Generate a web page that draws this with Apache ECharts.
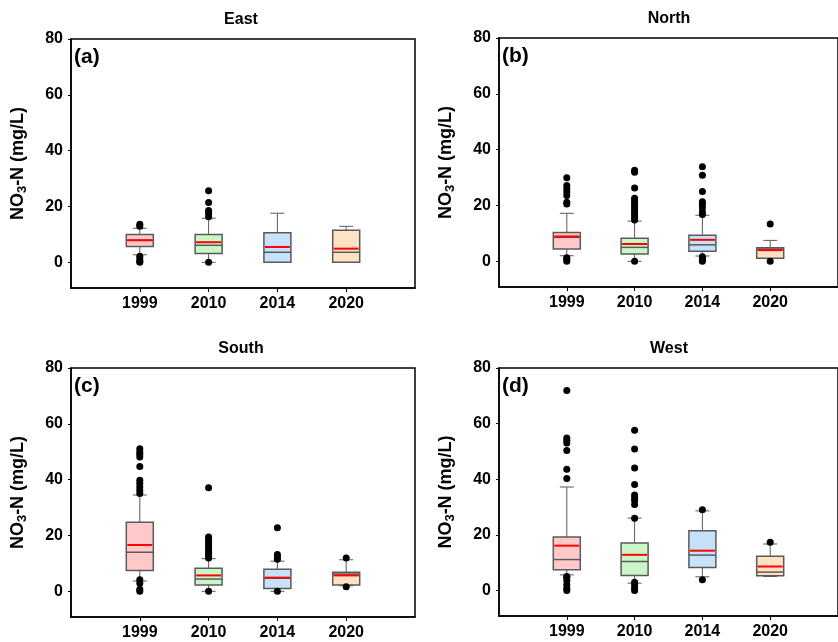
<!DOCTYPE html>
<html>
<head>
<meta charset="utf-8">
<script src="https://cdn.jsdelivr.net/npm/echarts@6/dist/echarts.min.js"></script>
<style>
  html, body { margin: 0; padding: 0; background: #fff; }
  #chart { width: 838px; height: 642px; }
</style>
</head>
<body>
<div id="chart"></div>
<script>
/* NO3-N boxplots by region, 1999-2020 */

const years = ['1999', '2010', '2014', '2020'];
const regions = ['East', 'North', 'South', 'West'];
const panelTags = ['(a)', '(b)', '(c)', '(d)'];
const yTicks = [0, 20, 40, 60, 80];

// each row: [lower whisker, Q1, median, Q3, upper whisker, mean]
const eastBox = [
  [2.7, 5.7, 7.9, 10.0, 12.2, 7.9],
  [0, 3.2, 6.1, 10.0, 15.8, 7.2],
  [0, 0, 3.6, 10.6, 17.6, 5.5],
  [0, 0, 3.6, 11.5, 12.9, 4.9],
];
const northBox = [
  [2.0, 4.4, 8.6, 10.3, 17.2, 8.9],
  [0, 2.6, 5.0, 8.3, 14.4, 6.2],
  [1.9, 3.6, 5.9, 9.3, 16.5, 7.7],
  [1.0, 1.1, 4.4, 4.9, 7.5, 4.0],
];
const southBox = [
  [3.7, 7.5, 14.0, 24.7, 34.5, 16.6],
  [0, 2.3, 4.4, 8.3, 11.7, 5.7],
  [0, 1.0, 4.7, 7.9, 10.8, 4.9],
  [2.0, 2.3, 6.2, 6.8, 11.3, 5.7],
];
const westBox = [
  [5.6, 7.4, 11.1, 19.2, 37.2, 16.1],
  [2.6, 5.4, 10.4, 17.1, 26.0, 12.8],
  [4.9, 8.2, 12.7, 21.5, 28.6, 14.3],
  [5.0, 5.3, 6.6, 12.3, 16.7, 8.6],
];

// outliers per year
const eastOut = [
  [13.6, 12.9, 2.2, 1.2, 0.4, 0],
  [25.6, 21.4, 18.6, 17.6, 16.3, 0],
  [],
  [],
];
const northOut = [
  [29.9, 27.2, 26.0, 24.8, 23.6, 21.2, 20.5, 1.3, 0.7, 0],
  [32.6, 31.9, 26.3, 22.6, 21.8, 21.0, 20.2, 19.4, 18.6, 17.8, 17.0, 16.2, 15.4, 14.8, 0],
  [33.9, 30.8, 25.0, 21.3, 20.4, 19.2, 17.7, 16.8, 1.6, 1.1, 0.5, 0],
  [13.4, 0],
];
const southOut = [
  [51.1, 49.9, 49.1, 48.1, 44.7, 39.8, 38.6, 37.4, 36.2, 35.0, 4.1, 2.9, 0.7, 0],
  [37.1, 19.5, 18.8, 18.0, 17.2, 16.4, 15.6, 14.8, 14.0, 13.2, 12.5, 11.9, 0],
  [22.8, 13.2, 12.3, 11.5, 0],
  [11.9, 1.6],
];
const westOut = [
  [71.9, 54.8, 53.9, 53.0, 50.3, 43.6, 40.3, 5.0, 4.7, 3.6, 2.0, 0.8, 0],
  [57.6, 50.9, 44.0, 38.1, 34.3, 33.3, 32.4, 30.9, 26.0, 2.9, 1.9, 0.8, 0],
  [29.0, 3.8],
  [17.3],
];

const boxSets = [eastBox, northBox, southBox, westBox];
const outSets = [eastOut, northOut, southOut, westOut];

const fills = ['#ffc9c9', '#c9f7c9', '#c6e2fa', '#ffe2c4'];
const edge = '#5a5a5a';
const BOX_W = 27;
const CAP_W = 14;
const FONT = '"Liberation Sans", Arial, sans-serif';

const grids = [
  { left: 71, top: 39, width: 344, height: 249 },
  { left: 499, top: 38, width: 344, height: 249 },
  { left: 71, top: 368, width: 344, height: 249 },
  { left: 499, top: 368, width: 344, height: 248 },
];

function renderBox(params, api) {
  const x = api.value(0);
  const pt = (i) => api.coord([x, api.value(i)]);
  const lo = pt(1), q1 = pt(2), md = pt(3), q3 = pt(4), hi = pt(5), mn = pt(6);
  const cx = lo[0];
  const line = (x1, y1, x2, y2, stroke, w) => ({
    type: 'line',
    shape: { x1, y1, x2, y2 },
    style: { stroke, lineWidth: w },
  });
  return {
    type: 'group',
    children: [
      line(cx, q1[1], cx, lo[1], edge, 1),
      line(cx - CAP_W / 2, lo[1], cx + CAP_W / 2, lo[1], edge, 1),
      line(cx, q3[1], cx, hi[1], edge, 1),
      line(cx - CAP_W / 2, hi[1], cx + CAP_W / 2, hi[1], edge, 1),
      {
        type: 'rect',
        shape: { x: cx - BOX_W / 2, y: q3[1], width: BOX_W, height: q1[1] - q3[1] },
        style: { fill: fills[params.dataIndex], stroke: edge, lineWidth: 1.5 },
      },
      line(cx - BOX_W / 2, md[1], cx + BOX_W / 2, md[1], edge, 1.5),
      line(cx - BOX_W / 2 + 1, mn[1], cx + BOX_W / 2 - 1, mn[1], '#ff0000', 2),
    ],
  };
}

const option = {
  animation: false,
  backgroundColor: '#fff',
  title: [],
  grid: [],
  xAxis: [],
  yAxis: [],
  series: [],
};

grids.forEach((g, k) => {
  option.grid.push(Object.assign({ show: true, borderColor: '#000', borderWidth: 1.5 }, g));
  option.title.push({
    text: regions[k],
    left: g.left + g.width / 2 - 2,
    top: g.top - 27,
    padding: 0,
    textAlign: 'center',
    textStyle: { fontFamily: FONT, fontSize: 16, fontWeight: 'bold', color: '#000' },
  });
  option.title.push({
    text: panelTags[k],
    left: g.left + 3,
    top: g.top + 8,
    padding: 0,
    textStyle: { fontFamily: FONT, fontSize: 21, fontWeight: 'bold', color: '#000' },
  });
  option.xAxis.push({
    type: 'value',
    gridIndex: k,
    min: 0,
    max: 5,
    splitLine: { show: false },
    axisLine: { show: true, onZero: false, lineStyle: { color: '#000', width: 1.5 } },
    axisTick: { show: true, length: 4, customValues: [1, 2, 3, 4], lineStyle: { color: '#000' } },
    axisLabel: {
      customValues: [1, 2, 3, 4],
      formatter: (v) => years[Math.round(v) - 1] || '',
      margin: 8,
      color: '#000',
      fontFamily: FONT,
      fontSize: 16,
      fontWeight: 'bold',
    },
  });
  option.yAxis.push({
    type: 'value',
    gridIndex: k,
    min: -9.2,
    max: 80,
    name: 'NO{s|3}-N (mg/L)',
    nameLocation: 'middle',
    nameGap: 42,
    nameTextStyle: {
      fontFamily: FONT,
      fontSize: 18,
      fontWeight: 'bold',
      color: '#000',
      rich: { s: { fontFamily: FONT, fontSize: 13, fontWeight: 'bold', color: '#000', padding: [8, 0, 0, 0] } },
    },
    splitLine: { show: false },
    axisLine: { show: true, onZero: false, lineStyle: { color: '#000', width: 1.5 } },
    axisTick: { show: true, length: 3, customValues: yTicks, lineStyle: { color: '#000' } },
    axisLabel: {
      customValues: yTicks,
      margin: 8,
      color: '#000',
      fontFamily: FONT,
      fontSize: 16,
      fontWeight: 'bold',
    },
  });

  const boxData = boxSets[k].map((row, i) => [i + 1].concat(row));
  option.series.push({
    type: 'custom',
    xAxisIndex: k,
    yAxisIndex: k,
    renderItem: renderBox,
    encode: { x: 0, y: [1, 2, 3, 4, 5, 6] },
    data: boxData,
    z: 2,
  });

  const outData = [];
  outSets[k].forEach((vals, i) => vals.forEach((v) => outData.push([i + 1, v])));
  option.series.push({
    type: 'scatter',
    xAxisIndex: k,
    yAxisIndex: k,
    symbol: 'circle',
    symbolSize: 7,
    itemStyle: { color: '#000', opacity: 1 },
    data: outData,
    z: 3,
  });
});

const chart = echarts.init(document.getElementById('chart'), null, { renderer: 'canvas' });
chart.setOption(option);
window.addEventListener('resize', () => chart.resize());
</script>
</body>
</html>
